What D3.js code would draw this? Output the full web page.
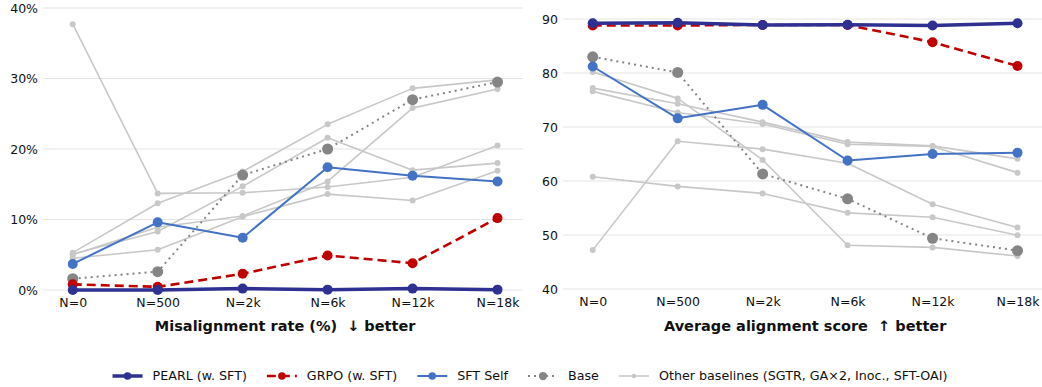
<!DOCTYPE html>
<html>
<head>
<meta charset="utf-8">
<script src="https://cdn.jsdelivr.net/npm/d3@7"></script>
<style>
  body { margin: 0; background: #fff; }
  text { font-family: "DejaVu Sans", sans-serif; fill: #111; }
</style>
</head>
<body>
<div id="chart"></div>
<script>
// data
var steps = ["N=0", "N=500", "N=2k", "N=6k", "N=12k", "N=18k"];

// misalignment rate (%)
var misPearl = [0.0, 0.0, 0.2, 0.05, 0.2, 0.05];
var misGrpo = [0.8, 0.45, 2.3, 4.9, 3.8, 10.2];
var misSft = [3.7, 9.6, 7.4, 17.4, 16.2, 15.4];
var misBase = [1.6, 2.6, 16.3, 20.0, 27.0, 29.5];
var misOthers = [
  [37.7, 13.7, 13.8, 14.6, 16.0, 20.5],
  [5.3, 12.3, 16.8, 23.5, 28.6, 29.8],
  [5.1, 8.3, 14.7, 21.6, 17.0, 18.0],
  [5.0, 8.9, 10.5, 15.4, 25.8, 28.5],
  [4.5, 5.7, 10.4, 13.6, 12.7, 16.9]
];
var misTicks = [0, 10, 20, 30, 40];

// average alignment score
var alPearl = [89.2, 89.3, 88.9, 88.95, 88.8, 89.2];
var alGrpo = [88.8, 88.8, 88.9, 88.9, 85.7, 81.3];
var alSft = [81.2, 71.6, 74.1, 63.8, 65.0, 65.25];
var alBase = [83.0, 80.1, 61.3, 56.7, 49.4, 47.1];
var alOthers = [
  [80.2, 75.3, 63.9, 48.1, 47.7, 46.1],
  [77.2, 74.3, 70.9, 67.2, 66.5, 64.1],
  [76.6, 72.7, 70.55, 66.8, 66.4, 61.55],
  [60.8, 59.0, 57.7, 54.1, 53.3, 49.95],
  [47.2, 67.35, 65.9, 63.3, 55.7, 51.4]
];
var alTicks = [40, 50, 60, 70, 80, 90];

var legendNames = ["PEARL (w. SFT)", "GRPO (w. SFT)", "SFT Self", "Base", "Other baselines (SGTR, GA\u00d72, Inoc., SFT-OAI)"];

var W = 1042, H = 387;

var styles = {
  pearl: { color: "#2e3092", width: 3.5, dash: null, r: 5 },
  grpo: { color: "#c00000", width: 2.6, dash: "9,5", r: 5 },
  sft: { color: "#4472c4", width: 2, dash: null, r: 5 },
  base: { color: "#858585", width: 2, dash: "2,4", r: 5.5 },
  other: { color: "#c8c8c8", width: 1.6, dash: null, r: 3 }
};

var svg = d3.select("#chart").append("svg")
  .attr("width", W)
  .attr("height", H);

function panel(opts) {
  var x = d3.scaleLinear().domain([-0.35, 5.3]).range(opts.xr);
  var y = d3.scaleLinear().domain(opts.yd).range(opts.yr);
  var g = svg.append("g");

  // grid
  g.selectAll(".grid")
    .data(opts.ticks)
    .enter().append("line")
    .attr("x1", opts.xr[0]).attr("x2", opts.xr[1])
    .attr("y1", function (d) { return y(d); })
    .attr("y2", function (d) { return y(d); })
    .attr("stroke", "#e5e5e5")
    .attr("stroke-width", 1);

  // y axis labels
  var ya = g.append("g")
    .attr("transform", "translate(" + opts.xr[0] + ",0)")
    .call(d3.axisLeft(y).tickValues(opts.ticks).tickSize(0).tickPadding(5).tickFormat(opts.fmt));
  ya.select(".domain").remove();
  ya.selectAll("text").style("font-size", "12.5px").attr("fill", "#111");

  // x axis labels
  var xa = g.append("g")
    .attr("transform", "translate(0," + (opts.yr[0] + 8) + ")")
    .call(d3.axisBottom(x).tickValues(d3.range(steps.length)).tickSize(0).tickPadding(0)
      .tickFormat(function (i) { return steps[i]; }));
  xa.select(".domain").remove();
  xa.selectAll("text").style("font-size", "12.5px").attr("fill", "#111");

  g.append("text")
    .attr("x", (x(0) + x(5)) / 2)
    .attr("y", 331)
    .attr("text-anchor", "middle")
    .style("font-size", "14.5px")
    .style("font-weight", "bold")
    .style("white-space", "pre")
    .text(opts.title);

  var line = d3.line()
    .x(function (d, i) { return x(i); })
    .y(function (d) { return y(d); });

  function series(vals, st) {
    var s = g.append("g");
    s.append("path")
      .attr("d", line(vals))
      .attr("fill", "none")
      .attr("stroke", st.color)
      .attr("stroke-width", st.width)
      .attr("stroke-dasharray", st.dash)
      .attr("stroke-linejoin", "round");
    s.selectAll("circle")
      .data(vals)
      .enter().append("circle")
      .attr("cx", function (d, i) { return x(i); })
      .attr("cy", function (d) { return y(d); })
      .attr("r", st.r)
      .attr("fill", st.color);
  }

  opts.others.forEach(function (o) { series(o, styles.other); });
  series(opts.base, styles.base);
  series(opts.sft, styles.sft);
  series(opts.grpo, styles.grpo);
  series(opts.pearl, styles.pearl);
}

panel({
  xr: [43, 523], yd: [0, 40], yr: [290, 8], ticks: misTicks,
  fmt: function (d) { return d + "%"; },
  title: "Misalignment rate (%)  \u2193 better",
  pearl: misPearl, grpo: misGrpo, sft: misSft, base: misBase, others: misOthers
});

panel({
  xr: [563, 1043], yd: [40, 90], yr: [289, 19], ticks: alTicks,
  fmt: function (d) { return d; },
  title: "Average alignment score  \u2191 better",
  pearl: alPearl, grpo: alGrpo, sft: alSft, base: alBase, others: alOthers
});

// legend
var legStyles = [styles.pearl, styles.grpo, styles.sft, styles.base, styles.other];
var leg = svg.append("g");
var handleW = 30, gapText = 10, gapItem = 20, ly = 376;
var items = leg.selectAll("g.item")
  .data(legendNames)
  .enter().append("g").attr("class", "item");
items.append("text")
  .attr("x", handleW + gapText)
  .attr("y", ly)
  .attr("dy", "0.35em")
  .style("font-size", "12.7px")
  .text(function (d) { return d; });
var xpos = 0;
items.each(function (d, i) {
  var st = legStyles[i];
  var it = d3.select(this);
  it.append("line")
    .attr("x1", 0).attr("x2", handleW)
    .attr("y1", ly).attr("y2", ly)
    .attr("stroke", st.color)
    .attr("stroke-width", st.width)
    .attr("stroke-dasharray", st.dash);
  it.append("circle")
    .attr("cx", handleW / 2).attr("cy", ly)
    .attr("r", st.r * 0.75)
    .attr("fill", st.color);
  var tw = it.select("text").node().getComputedTextLength();
  it.attr("transform", "translate(" + xpos + ",0)");
  xpos += handleW + gapText + tw + gapItem;
});
var total = xpos - gapItem;
leg.attr("transform", "translate(" + (530 - total / 2) + ",0)");
</script>
</body>
</html>
